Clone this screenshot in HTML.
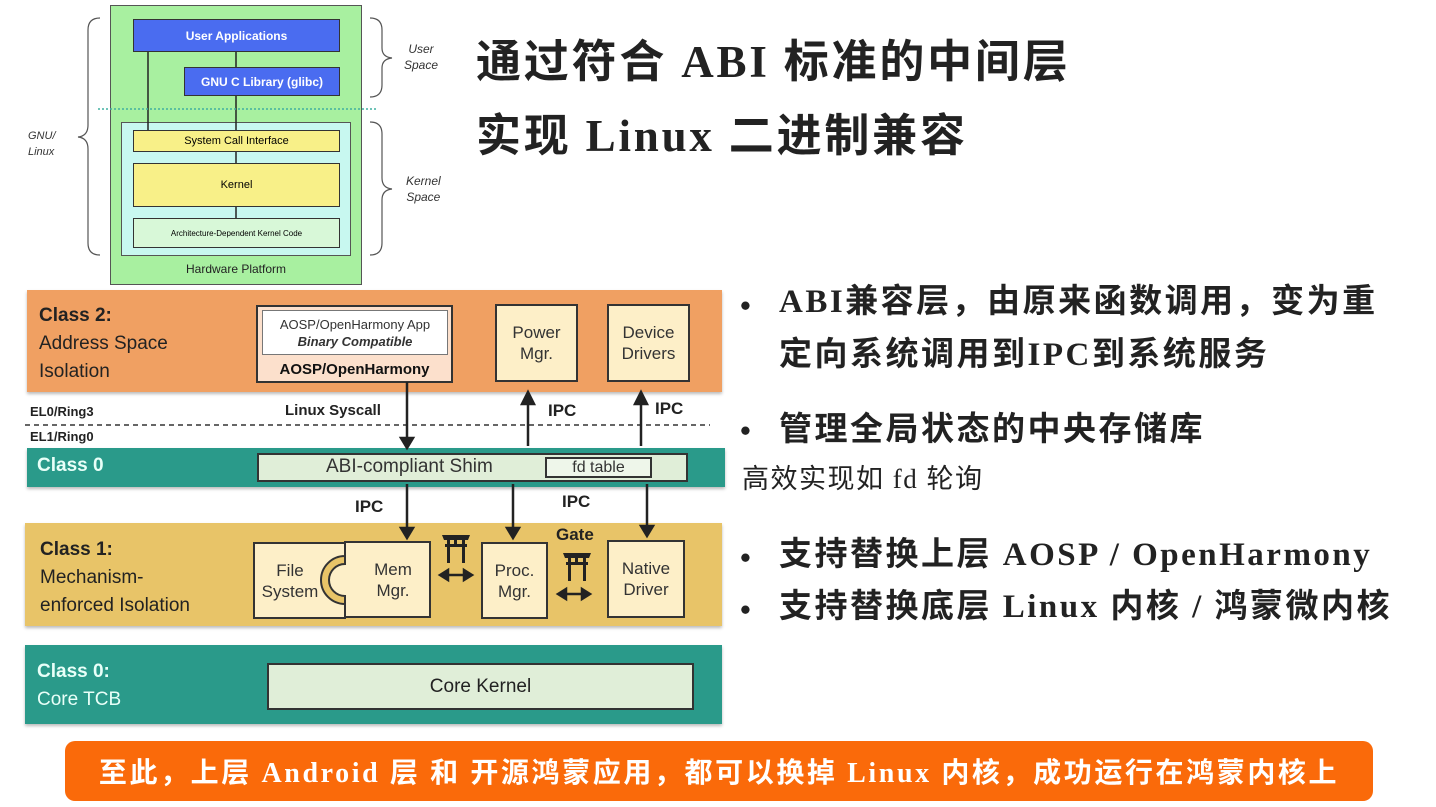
<!DOCTYPE html>
<html><head><meta charset="utf-8"><style>
*{margin:0;padding:0;box-sizing:border-box}
body{width:1436px;height:807px;background:#fff;position:relative;overflow:hidden;font-family:"Liberation Sans","Noto Sans CJK SC",sans-serif}
.a{position:absolute}
.c{display:flex;align-items:center;justify-content:center;text-align:center}
.t{font-family:"Liberation Serif","Noto Sans CJK SC",serif;font-weight:bold;color:#222}
.box{border:2px solid #333;background:#fdefc8;color:#333;font-size:17px;line-height:21px}
.bl{font-size:33px;letter-spacing:2.5px;white-space:nowrap}
</style></head><body>
<!-- top left diagram -->
<div class="a" style="left:110px;top:5px;width:252px;height:280px;background:#a8f0a0;border:1px solid #555"></div>
<div class="a" style="left:121px;top:122px;width:230px;height:134px;background:#c8f8f0;border:1px solid #555"></div>
<div class="a c" style="left:133px;top:19px;width:207px;height:33px;background:#4a6cf0;border:1px solid #333;color:#fff;font-size:12px;font-weight:bold">User Applications</div>
<div class="a c" style="left:184px;top:67px;width:156px;height:29px;background:#4a6cf0;border:1px solid #333;color:#fff;font-size:12px;font-weight:bold">GNU C Library (glibc)</div>
<div class="a c" style="left:133px;top:130px;width:207px;height:22px;background:#f8f088;border:1px solid #333;font-size:11px">System Call Interface</div>
<div class="a c" style="left:133px;top:163px;width:207px;height:44px;background:#f8f088;border:1px solid #333;font-size:11px">Kernel</div>
<div class="a c" style="left:133px;top:218px;width:207px;height:30px;background:#d8f8d8;border:1px solid #333;font-size:8px">Architecture-Dependent Kernel Code</div>
<div class="a c" style="left:110px;top:261px;width:252px;height:16px;font-size:12px;color:#222">Hardware Platform</div>
<div class="a" style="left:28px;top:128px;font-size:11px;font-style:italic;color:#333;line-height:16px">GNU/<br>Linux</div>
<div class="a" style="left:404px;top:41px;font-size:12px;font-style:italic;color:#333;line-height:16px;text-align:center">User<br>Space</div>
<div class="a" style="left:406px;top:173px;font-size:12px;font-style:italic;color:#333;line-height:16px;text-align:center">Kernel<br>Space</div>
<svg class="a" style="left:0;top:0" width="480" height="290">
<g stroke="#222" stroke-width="1.5"><line x1="148" y1="52" x2="148" y2="130"/><line x1="236" y1="52" x2="236" y2="67"/><line x1="236" y1="96" x2="236" y2="130"/><line x1="236" y1="152" x2="236" y2="163"/><line x1="236" y1="207" x2="236" y2="218"/></g>
<line x1="98" y1="109" x2="377" y2="109" stroke="#40b0a0" stroke-width="1.5" stroke-dasharray="2,2"/>
<g fill="none" stroke="#555" stroke-width="1.2">
<path d="M100 18 Q88 18 88 30 L88 125 Q88 136 78 137 Q88 138 88 149 L88 243 Q88 255 100 255"/>
<path d="M370 18 Q382 18 382 30 L382 48 Q382 57 392 58 Q382 59 382 68 L382 85 Q382 97 370 97"/>
<path d="M370 122 Q382 122 382 134 L382 178 Q382 188 392 189 Q382 190 382 200 L382 243 Q382 255 370 255"/>
</g></svg>
<!-- title -->
<div class="a t" style="left:476px;top:36px;font-size:45px;letter-spacing:2.8px;line-height:52px;white-space:nowrap">通过符合 ABI 标准的中间层</div>
<div class="a t" style="left:476px;top:110px;font-size:45px;letter-spacing:2.8px;line-height:52px;white-space:nowrap">实现 Linux 二进制兼容</div>
<!-- bands -->
<div class="a" style="left:27px;top:290px;width:695px;height:102px;background:#f0a062;box-shadow:0 2px 3px #bbb"></div>
<div class="a" style="left:27px;top:448px;width:698px;height:39px;background:#2a9a8a;box-shadow:0 2px 3px #bbb"></div>
<div class="a" style="left:25px;top:523px;width:697px;height:103px;background:#e8c468;box-shadow:0 2px 3px #bbb"></div>
<div class="a" style="left:25px;top:645px;width:697px;height:79px;background:#2a9a8a;box-shadow:0 2px 3px #bbb"></div>
<div class="a" style="left:39px;top:302px;font-size:19px;line-height:28px;color:#222"><b>Class 2:</b><br>Address Space<br>Isolation</div>
<div class="a" style="left:37px;top:455px;font-size:19px;color:#e8fff8;font-weight:bold">Class 0</div>
<div class="a" style="left:40px;top:536px;font-size:19px;line-height:28px;color:#222"><b>Class 1:</b><br>Mechanism-<br>enforced Isolation</div>
<div class="a" style="left:37px;top:658px;font-size:19px;line-height:28px;color:#e8fff8"><b>Class 0:</b><br>Core TCB</div>
<div class="a" style="left:256px;top:305px;width:197px;height:78px;background:#fce0cc;border:2px solid #333"></div>
<div class="a c" style="left:262px;top:310px;width:186px;height:45px;background:#fff;border:1px solid #777;flex-direction:column;font-size:13px;color:#333;line-height:17px"><span>AOSP/OpenHarmony App</span><i><b>Binary Compatible</b></i></div>
<div class="a c" style="left:256px;top:359px;width:197px;height:20px;font-size:15px;font-weight:bold;color:#111">AOSP/OpenHarmony</div>
<div class="a c box" style="left:495px;top:304px;width:83px;height:78px">Power<br>Mgr.</div>
<div class="a c box" style="left:607px;top:304px;width:83px;height:78px">Device<br>Drivers</div>
<div class="a" style="left:30px;top:404px;font-size:13px;font-weight:bold;color:#222">EL0/Ring3</div>
<div class="a" style="left:30px;top:429px;font-size:13px;font-weight:bold;color:#222">EL1/Ring0</div>
<div class="a" style="left:285px;top:402px;font-size:15px;font-weight:bold;color:#222">Linux Syscall</div>
<div class="a" style="left:548px;top:401px;font-size:17px;font-weight:bold;color:#222">IPC</div>
<div class="a" style="left:655px;top:399px;font-size:17px;font-weight:bold;color:#222">IPC</div>
<div class="a" style="left:257px;top:453px;width:431px;height:29px;background:#e0eed8;border:2px solid #333"></div>
<div class="a" style="left:326px;top:456px;font-size:19px;color:#333">ABI-compliant Shim</div>
<div class="a c" style="left:545px;top:457px;width:107px;height:21px;border:2px solid #333;background:#eef6ea;font-size:16px;color:#333">fd table</div>
<div class="a" style="left:355px;top:497px;font-size:17px;font-weight:bold;color:#222">IPC</div>
<div class="a" style="left:562px;top:492px;font-size:17px;font-weight:bold;color:#222">IPC</div>
<div class="a" style="left:556px;top:525px;font-size:17px;font-weight:bold;color:#222">Gate</div>
<svg class="a" style="left:0;top:280px" width="740" height="360">
<path d="M254 263 H345 V276 A24 24 0 0 0 345 324 V338 H254 Z" fill="#fdefc8" stroke="#333" stroke-width="2"/>
<path d="M430 262 H345 V284 A16 16 0 0 0 345 316 V337 H430 Z" fill="#fdefc8" stroke="#333" stroke-width="2"/>
</svg>
<div class="a c" style="left:254px;top:543px;width:72px;height:75px;font-size:17px;line-height:21px;color:#333">File<br>System</div>
<div class="a c" style="left:356px;top:542px;width:74px;height:75px;font-size:17px;line-height:21px;color:#333">Mem<br>Mgr.</div>
<div class="a c box" style="left:481px;top:542px;width:67px;height:77px">Proc.<br>Mgr.</div>
<div class="a c box" style="left:607px;top:540px;width:78px;height:78px">Native<br>Driver</div>
<div class="a c" style="left:267px;top:663px;width:427px;height:47px;background:#e0eed8;border:2px solid #333;font-size:19px;color:#222">Core Kernel</div>
<svg class="a" style="left:0;top:280px" width="740" height="360">
<line x1="25" y1="145" x2="710" y2="145" stroke="#333" stroke-width="1.5" stroke-dasharray="5,4"/>
<g stroke="#222" stroke-width="2.5" fill="#222">
<line x1="407" y1="102" x2="407" y2="160"/><polygon points="401,158 413,158 407,168"/>
<line x1="528" y1="166" x2="528" y2="122"/><polygon points="522,124 534,124 528,112"/>
<line x1="641" y1="166" x2="641" y2="122"/><polygon points="635,124 647,124 641,112"/>
<line x1="407" y1="204" x2="407" y2="250"/><polygon points="401,248 413,248 407,258"/>
<line x1="513" y1="204" x2="513" y2="250"/><polygon points="507,248 519,248 513,258"/>
<line x1="647" y1="204" x2="647" y2="248"/><polygon points="641,246 653,246 647,256"/>
<line x1="446" y1="295" x2="466" y2="295"/><polygon points="440,295 448,290 448,300"/><polygon points="472,295 464,290 464,300"/>
<line x1="564" y1="314" x2="584" y2="314"/><polygon points="558,314 566,309 566,319"/><polygon points="590,314 582,309 582,319"/>
</g>
<g fill="#222">
<path d="M442 255 L470 255 L468 260 L444 260Z"/><rect x="445" y="264" width="22" height="3"/><rect x="447" y="259" width="3" height="24"/><rect x="462" y="259" width="3" height="24"/><rect x="454" y="259" width="3" height="6"/>
<path d="M563 273 L591 273 L589 278 L565 278Z"/><rect x="566" y="282" width="22" height="3"/><rect x="568" y="277" width="3" height="24"/><rect x="583" y="277" width="3" height="24"/><rect x="575" y="277" width="3" height="6"/>
</g></svg>
<!-- bullets -->
<div class="a t" style="left:740px;top:279px;font-size:31px;line-height:53px">•</div>
<div class="a t bl" style="left:779px;top:276px;line-height:53px">ABI兼容层，由原来函数调用，变为重<br>定向系统调用到IPC到系统服务</div>
<div class="a t" style="left:740px;top:410px;font-size:31px;line-height:42px">•</div>
<div class="a t bl" style="left:779px;top:409px;line-height:42px">管理全局状态的中央存储库</div>
<div class="a" style="left:742px;top:463px;font-size:27px;letter-spacing:1.5px;line-height:32px;color:#222;font-family:'Liberation Serif','Noto Sans CJK SC',serif;white-space:nowrap">高效实现如 fd 轮询</div>
<div class="a t" style="left:740px;top:532px;font-size:31px;line-height:52px">•<br>•</div>
<div class="a t bl" style="left:779px;top:529px;line-height:52px">支持替换上层 AOSP / OpenHarmony<br>支持替换底层 Linux 内核 / 鸿蒙微内核</div>
<div class="a c" style="left:65px;top:741px;width:1308px;height:60px;background:#fa6a0a;border-radius:10px;color:#fff;font-size:28px;letter-spacing:2.6px;font-weight:bold;font-family:'Liberation Serif','Noto Sans CJK SC',serif;white-space:nowrap">至此，上层 Android 层 和 开源鸿蒙应用，都可以换掉 Linux 内核，成功运行在鸿蒙内核上</div>
</body></html>
